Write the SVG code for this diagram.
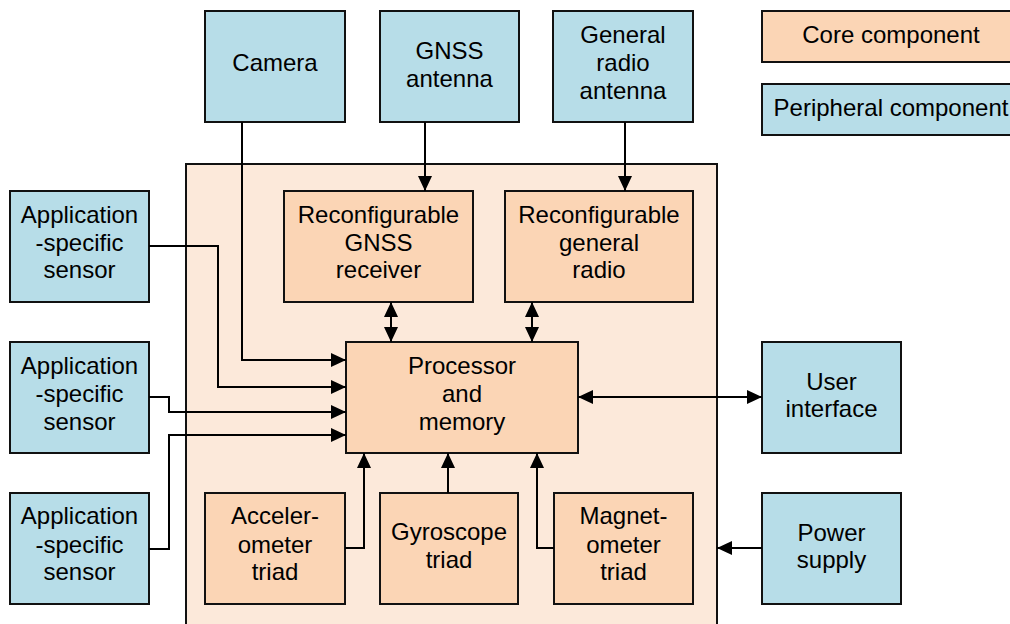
<svg xmlns="http://www.w3.org/2000/svg" width="1010" height="624" viewBox="0 0 1010 624">
<defs>
<marker id="ah" markerUnits="userSpaceOnUse" markerWidth="15" markerHeight="14" refX="15" refY="7" orient="auto-start-reverse">
<path d="M0,0 L15,7 L0,14 z" fill="#000"/>
</marker>
<style>
.per{fill:#B7DDE8;stroke:#111;stroke-width:2}
.core{fill:#FBD5B5;stroke:#111;stroke-width:2}
.cont{fill:#FCE9DA;stroke:#111;stroke-width:2}
text{font-family:"Liberation Sans",Arial,sans-serif;font-size:24px;fill:#000;text-anchor:middle}
.c line,.c polyline{stroke:#000;stroke-width:2;fill:none}
</style>
</defs>
<rect width="1010" height="624" fill="#fff"/>
<g id="container"><rect class="cont" x="186" y="164" width="531" height="480"/></g>
<g id="camera"><rect class="per" x="205" y="11" width="140" height="111"/><text x="275" y="71">Camera</text></g>
<g id="gnss-antenna"><rect class="per" x="380" y="11" width="139" height="111"/><text x="449.5" y="59">GNSS</text><text x="449.5" y="87">antenna</text></g>
<g id="radio-antenna"><rect class="per" x="553" y="11" width="140" height="111"/><text x="623" y="43">General</text><text x="623" y="71">radio</text><text x="623" y="99">antenna</text></g>
<g id="legend-core"><rect class="core" x="762" y="11" width="258" height="51"/><text x="891" y="43">Core component</text></g>
<g id="legend-peripheral"><rect class="per" x="762" y="84" width="258" height="51"/><text x="891" y="116">Peripheral component</text></g>
<g id="gnss-receiver"><rect class="core" x="284" y="191" width="189" height="111"/><text x="378.5" y="223">Reconfigurable</text><text x="378.5" y="251">GNSS</text><text x="378.5" y="278">receiver</text></g>
<g id="general-radio"><rect class="core" x="505" y="191" width="188" height="111"/><text x="599" y="223">Reconfigurable</text><text x="599" y="251">general</text><text x="599" y="278">radio</text></g>
<g id="sensor1"><rect class="per" x="10" y="191" width="139" height="111"/><text x="79.5" y="223">Application</text><text x="79.5" y="251">-specific</text><text x="79.5" y="278">sensor</text></g>
<g id="sensor2"><rect class="per" x="10" y="342" width="139" height="111"/><text x="79.5" y="374">Application</text><text x="79.5" y="402">-specific</text><text x="79.5" y="430">sensor</text></g>
<g id="sensor3"><rect class="per" x="10" y="493" width="139" height="111"/><text x="79.5" y="524">Application</text><text x="79.5" y="553">-specific</text><text x="79.5" y="580">sensor</text></g>
<g id="processor"><rect class="core" x="346" y="342" width="232" height="111"/><text x="462" y="374">Processor</text><text x="462" y="402">and</text><text x="462" y="430">memory</text></g>
<g id="accelerometer"><rect class="core" x="205" y="493" width="140" height="111"/><text x="275" y="524">Acceler-</text><text x="275" y="553">ometer</text><text x="275" y="580">triad</text></g>
<g id="gyroscope"><rect class="core" x="380" y="493" width="138" height="111"/><text x="449" y="540">Gyroscope</text><text x="449" y="568">triad</text></g>
<g id="magnetometer"><rect class="core" x="554" y="493" width="139" height="111"/><text x="623.5" y="524">Magnet-</text><text x="623.5" y="553">ometer</text><text x="623.5" y="580">triad</text></g>
<g id="user-interface"><rect class="per" x="762" y="342" width="139" height="111"/><text x="831.5" y="390">User</text><text x="831.5" y="417">interface</text></g>
<g id="power-supply"><rect class="per" x="762" y="493" width="139" height="111"/><text x="831.5" y="541">Power</text><text x="831.5" y="568">supply</text></g>
<g id="connectors" class="c">
<polyline points="242,122 242,360 346,360" marker-end="url(#ah)"/>
<polyline points="149,246 218,246 218,387 346,387" marker-end="url(#ah)"/>
<polyline points="149,397 169,397 169,412 346,412" marker-end="url(#ah)"/>
<polyline points="149,549 169,549 169,435 346,435" marker-end="url(#ah)"/>
<line x1="425" y1="122" x2="425" y2="191" marker-end="url(#ah)"/>
<line x1="625" y1="122" x2="625" y2="191" marker-end="url(#ah)"/>
<line x1="391" y1="302" x2="391" y2="342" marker-start="url(#ah)" marker-end="url(#ah)"/>
<line x1="532" y1="302" x2="532" y2="342" marker-start="url(#ah)" marker-end="url(#ah)"/>
<line x1="578" y1="397" x2="762" y2="397" marker-start="url(#ah)" marker-end="url(#ah)"/>
<polyline points="345,548 364,548 364,453" marker-end="url(#ah)"/>
<line x1="448" y1="493" x2="448" y2="453" marker-end="url(#ah)"/>
<polyline points="554,548 537,548 537,453" marker-end="url(#ah)"/>
<line x1="762" y1="548" x2="717" y2="548" marker-end="url(#ah)"/>
</g>
</svg>
